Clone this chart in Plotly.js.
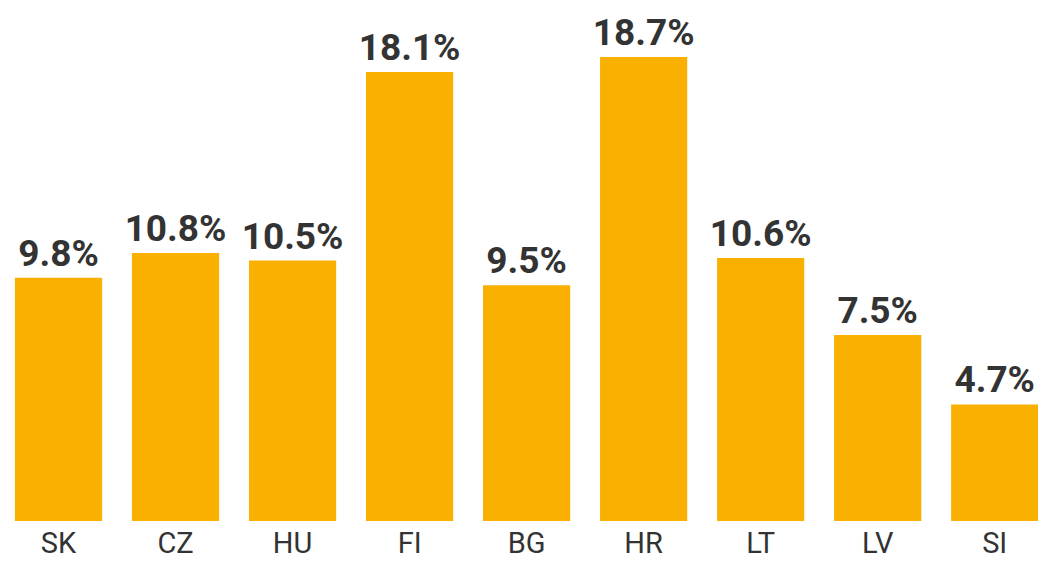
<!DOCTYPE html>
<html>
<head>
<meta charset="utf-8">
<script src="https://cdn.plot.ly/plotly-3.0.1.min.js"></script>
<style>html,body{margin:0;padding:0;background:#fff;}#chart{width:1038px;height:564px;}</style>
</head>
<body>
<div id="chart"></div>
<script>
const categories = ["SK", "CZ", "HU", "FI", "BG", "HR", "LT", "LV", "SI"];
const values = [9.8, 10.8, 10.5, 18.1, 9.5, 18.7, 10.6, 7.5, 4.7];
const labels = values.map(v => v.toFixed(1) + "%");

const trace = {
  type: "bar",
  x: categories,
  y: values,
  text: labels,
  textposition: "outside",
  constraintext: "none",
  cliponaxis: false,
  marker: {color: "#F9B000"},
  textfont: {family: "Roboto", size: 37, color: "#333333", weight: "bold"},
  hoverinfo: "none"
};

const layout = {
  width: 1038,
  height: 564,
  margin: {l: 0, r: 0, t: 0, b: 43},
  paper_bgcolor: "#ffffff",
  plot_bgcolor: "#ffffff",
  bargap: 0.255,
  showlegend: false,
  xaxis: {
    type: "category",
    range: [-0.5, 8.37],
    showgrid: false,
    zeroline: false,
    showline: false,
    ticks: "",
    ticklabelstandoff: 2,
    tickfont: {family: "Roboto", size: 29, color: "#333333"},
    fixedrange: true
  },
  yaxis: {
    range: [0, 21.0],
    visible: false,
    showgrid: false,
    zeroline: false,
    fixedrange: true
  },
  font: {family: "Roboto"}
};

Plotly.newPlot("chart", [trace], layout, {displayModeBar: false, staticPlot: true});
</script>
</body>
</html>
